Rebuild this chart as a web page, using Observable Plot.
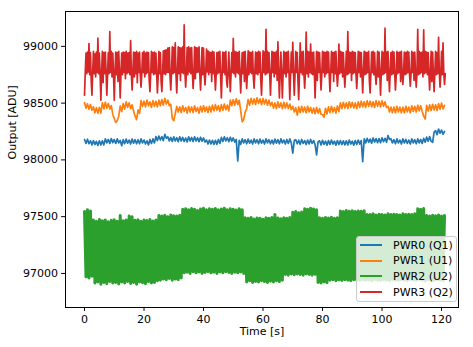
<!DOCTYPE html>
<html><head><meta charset="utf-8">
<script src="https://cdn.jsdelivr.net/npm/d3@7"></script>
<script src="https://cdn.jsdelivr.net/npm/@observablehq/plot@0.6"></script>
<style>
body{margin:0;background:#fff;}
#wrap{position:relative;width:473px;height:347px;font-family:"DejaVu Sans",sans-serif;}
.legend{position:absolute;left:356px;top:236px;width:99px;height:64px;border:1px solid #cccccc;border-radius:3px;background:rgba(255,255,255,0.8);font-size:11px;color:#000;}
.row{position:absolute;left:0;height:16px;display:flex;align-items:center;white-space:nowrap;}
.sw{display:inline-block;width:22px;height:2px;margin-left:3px;margin-right:11px;}
</style>
</head><body><div id="wrap"></div>
<script>
const seriesNames = ["PWR0 (Q1)", "PWR1 (U1)", "PWR2 (U2)", "PWR3 (Q2)"];
const seriesColors = ["#1f77b4", "#ff7f0e", "#2ca02c", "#d62728"];
const seriesWidths = [1.7, 1.7, 3, 1.7];
const sampleSpacing = [0.5, 0.5, 0.5, 0.25]; // seconds between samples
const xTicks = [0, 20, 40, 60, 80, 100, 120];
const yTicks = [97000, 97500, 98000, 98500, 99000];

const pwr0 = [98180,98145,98182,98143,98168,98132,98170,98135,98163,98127,98168,98132,98168,98132,98185,98150,98180,98145,98188,98152,98180,98145,98185,98150,98172,98125,98178,98142,98183,98147,98175,98140,98183,98147,98178,98142,98178,98142,98185,98150,98175,98140,98168,98132,98180,98145,98185,98150,98205,98170,98210,98175,98205,98170,98225,98190,98203,98167,98198,98162,98203,98167,98195,98160,98203,98167,98198,98162,98193,98157,98203,98167,98198,98162,98203,98167,98195,98160,98200,98165,98193,98157,98175,98140,98175,98140,98173,98137,98173,98137,98180,98145,98198,98162,98203,98167,98195,98160,98200,98165,98193,98157,98180,97990,98173,98137,98185,98150,98178,98142,98183,98147,98175,98140,98185,98150,98178,98142,98183,98147,98175,98140,98185,98150,98178,98142,98175,98140,98183,98147,98178,98142,98185,98150,98175,98140,98180,98145,98185,98150,98060,98170,98178,98142,98173,98137,98180,98145,98170,98135,98175,98140,98180,98145,98170,98135,98045,98160,98168,98132,98173,98137,98165,98130,98170,98135,98175,98140,98165,98130,98170,98135,98170,98135,98168,98132,98168,98132,98175,98140,98165,98130,98170,98135,98175,98140,98170,97985,98185,98150,98190,98155,98183,98147,98193,98157,98188,98152,98188,98152,98195,98160,98190,98155,98215,98180,98185,98150,98178,98142,98185,98150,98175,98140,98185,98150,98180,98145,98175,98140,98185,98150,98178,98142,98185,98150,98180,98145,98190,98155,98200,98165,98205,98165,98155,98245,98258,98222,98272,98236,98263,98227,98250];

const pwr1 = [98505,98455,98495,98445,98488,98437,98468,98415,98460,98410,98463,98412,98502,98450,98508,98455,98497,98447,98478,98400,98365,98330,98345,98385,98475,98425,98497,98447,98512,98462,98503,98452,98485,98430,98385,98355,98440,98410,98522,98472,98517,98467,98527,98477,98512,98462,98522,98472,98517,98467,98527,98477,98532,98482,98542,98492,98527,98477,98490,98365,98345,98410,98472,98422,98467,98417,98477,98427,98462,98412,98472,98422,98467,98417,98477,98427,98462,98412,98472,98422,98477,98427,98467,98417,98472,98422,98482,98432,98487,98437,98477,98427,98487,98437,98492,98442,98482,98432,98527,98477,98532,98482,98537,98487,98525,98430,98335,98355,98420,98450,98532,98482,98542,98492,98537,98487,98547,98497,98537,98487,98542,98492,98532,98482,98527,98477,98507,98457,98502,98452,98512,98462,98502,98452,98507,98457,98502,98452,98492,98442,98472,98422,98460,98395,98467,98417,98472,98422,98465,98415,98472,98422,98462,98412,98457,98407,98462,98412,98452,98402,98400,98375,98455,98405,98467,98417,98472,98422,98462,98412,98475,98425,98502,98452,98507,98457,98502,98452,98512,98462,98507,98457,98502,98452,98512,98462,98517,98467,98512,98462,98522,98472,98517,98467,98512,98462,98522,98472,98517,98467,98522,98472,98512,98462,98472,98422,98465,98415,98465,98415,98472,98422,98465,98415,98465,98415,98472,98422,98465,98415,98477,98427,98472,98422,98482,98432,98477,98427,98385,98360,98480,98430,98485,98435,98490,98440,98485,98435,98495,98445,98500,98450,98480];

const pwr2 = [97545,96970,97560,96960,97550,96975,97470,96915,97460,96925,97475,96905,97465,96920,97470,96910,97455,96930,97468,96915,97472,96920,97460,96908,97510,96925,97465,96915,97470,96930,97505,96912,97500,96920,97468,96905,97472,96925,97460,96918,97470,96910,97466,96928,97475,96915,97462,96920,97470,96935,97510,96940,97505,96950,97512,96945,97500,96955,97515,96940,97508,96950,97505,96945,97512,96960,97565,97005,97570,97010,97560,97000,97572,97015,97565,97005,97555,97012,97568,97000,97575,97008,97560,97015,97570,97005,97565,97010,97572,97000,97560,97012,97568,97005,97575,97015,97562,97008,97570,97000,97565,97010,97558,97005,97570,97012,97562,97000,97490,96925,97485,96935,97492,96920,97480,96930,97488,96925,97485,96935,97478,96928,97490,96920,97485,96932,97492,96925,97520,96935,97488,96928,97482,96940,97490,96990,97485,96985,97492,96995,97540,96988,97545,96995,97535,96990,97542,96985,97570,96995,97565,96990,97575,96985,97568,96992,97560,96920,97490,96915,97485,96925,97492,96918,97488,96940,97495,96945,97485,96935,97490,96942,97550,96938,97545,96945,97555,96940,97548,96935,97552,96945,97545,96940,97550,96938,97548,96945,97552,96940,97520,96942,97518,96935,97525,96945,97515,96940,97522,96938,97520,96945,97515,96940,97525,96935,97518,96945,97522,96940,97520,96938,97515,96945,97525,96940,97518,96935,97522,96945,97520,96940,97525,96938,97570,96945,97565,96940,97572,96935,97510,96945,97505,96940,97512,96938,97508,96945,97515,96940,97505,96935,97510];

const pwr3 = [
98570,98770,98940,98760, 98950,98775,99025,98750, 98945,98700,98570,98770, 98955,98760,98935,98730,
98950,98770,99072,98760, 98940,98750,98525,98775, 98955,98680,98945,98760, 98950,98770,98570,98750,
98945,98760,99130,98770, 98955,98730,98940,98760, 98525,98770,98950,98750, 98945,98690,98955,98770,
98545,98760,98940,98750, 98950,98770,98945,98715, 98955,98760,98940,98770, 98945,98750,99050,98760,
98615,98770,98950,98730, 98945,98760,98955,98680, 98940,98770,98950,98750, 98640,98760,98945,98770,
98955,98730,98940,98760, 98950,98770,98945,98700, 98600,98760,98955,98770, 98945,98750,98950,98760,
98940,98770,98590,98730, 98955,98760,98945,98690, 98600,98770,98960,98760, 98965,98750,98970,98770,
98985,98770,98990,98730, 98615,98775,98995,98760, 98990,98770,99030,98750, 98590,98775,98995,98760,
98990,98700,98985,98770, 98995,98760,99190,98775, 98640,98770,98990,98750, 98995,98775,98985,98760,
98990,98770,98630,98750, 98995,98715,98990,98770, 98985,98775,98995,98760, 98615,98770,98990,98750,
98985,98760,98660,98770, 98975,98775,98960,98750, 98950,98770,98945,98690, 98955,98760,98950,98770,
98615,98750,98945,98760, 98950,98770,98955,98730, 98545,98760,98950,98770, 98945,98750,98955,98700,
98640,98770,98950,98760, 98600,98750,98945,98770, 99070,98760,98955,98730, 98950,98770,98945,98760,
98955,98750,98590,98770, 98945,98760,98950,98690, 98955,98770,98630,98760, 98960,98750,98950,98770,
98945,98760,98955,98730, 98632,98770,98950,98760, 98945,98750,98955,98770, 98950,98700,98570,98760,
98960,98770,98950,98750, 99150,98760,98955,98770, 98945,98750,98570,98760, 98955,98770,98950,98730,
98945,98760,98955,98700, 99040,98770,98545,98760, 98950,98750,98545,98770, 98955,98760,98945,98730,
98950,98770,98955,98760, 98530,98750,98950,98770, 99035,98760,98570,98750, 98955,98770,98945,98690,
98530,98760,99030,98770, 98950,98750,98955,98760, 98632,98770,99125,98760, 98955,98730,98950,98770,
99020,98760,98945,98750, 98950,98770,98545,98760, 98955,98700,98950,98770, 98945,98760,98615,98750,
98955,98770,98950,98730, 98945,98760,98955,98770, 98950,98750,98600,98760, 98955,98770,98945,98690,
98950,98760,98955,98770, 98650,98750,99020,98760, 98955,98770,98950,98730, 98945,98760,98640,98770,
98955,98750,99130,98760, 98950,98770,98945,98700, 98955,98760,98950,98770, 98945,98750,98630,98760,
98955,98770,98950,98730, 98945,98760,98590,98770, 98955,98750,98950,98760, 98945,98770,98955,98690,
98590,98760,98950,98770, 98955,98750,98945,98760, 98665,98770,98955,98730, 98950,98760,98570,98770,
98955,98750,98945,98760, 99160,98770,98950,98700, 98955,98760,98600,98770, 98945,98750,98955,98760,
98950,98770,98615,98730, 98955,98760,98945,98770, 98950,98690,98955,98760, 98665,98770,98950,98750,
98945,98760,98955,98770, 98950,98750,98650,98760, 98955,98770,98945,98700, 98950,98760,98640,98770,
99150,98750,98955,98760, 98945,98770,98950,98730, 99145,98760,98955,98770, 98950,98750,98945,98760,
98615,98770,98955,98690, 98950,98760,98600,98770, 98955,98750,98945,98760, 99080,98770,98640,98760,
98955,98750,99030,98770, 98665,98760];

const all = [pwr0, pwr1, pwr2, pwr3];
const lineMarks = all.map((arr, k) =>
  Plot.line(arr.map((v, i) => ({t: i * sampleSpacing[k], v})), {x: "t", y: "v", stroke: seriesColors[k], strokeWidth: seriesWidths[k]})
);

const chart = Plot.plot({
  width: 473, height: 347,
  marginLeft: 65, marginRight: 15, marginTop: 11, marginBottom: 40,
  style: {fontFamily: "DejaVu Sans, sans-serif", fontSize: "11px", color: "#000", background: "#fff"},
  x: {domain: [-6.39, 125.7]},
  y: {domain: [96700, 99307]},
  marks: [
    ...lineMarks,
    Plot.frame({stroke: "#000", strokeWidth: 1}),
    Plot.axisX({ticks: xTicks, tickSize: 3.9, tickPadding: 3.5, tickFormat: d3.format("d"), label: null}),
    Plot.axisY({ticks: yTicks, tickSize: 3.9, tickPadding: 3.5, tickFormat: d3.format("d"), label: null}),
    Plot.text(["Time [s]"], {frameAnchor: "bottom", dy: 27, fontSize: 11, fill: "#000"}),
    Plot.text(["Output [ADU]"], {frameAnchor: "left", dx: -53, rotate: -90, fontSize: 11, fill: "#000"})
  ]
});
const wrap = document.getElementById("wrap");
wrap.appendChild(chart);
const leg = document.createElement("div");
leg.className = "legend";
seriesNames.forEach((n, k) => {
  const r = document.createElement("div");
  r.className = "row";
  r.style.top = (k * 15.7) + "px";
  const sw = document.createElement("span");
  sw.className = "sw";
  sw.style.background = seriesColors[k];
  const tx = document.createElement("span");
  tx.textContent = n;
  r.appendChild(sw); r.appendChild(tx);
  leg.appendChild(r);
});
wrap.appendChild(leg);
</script>
</body></html>
